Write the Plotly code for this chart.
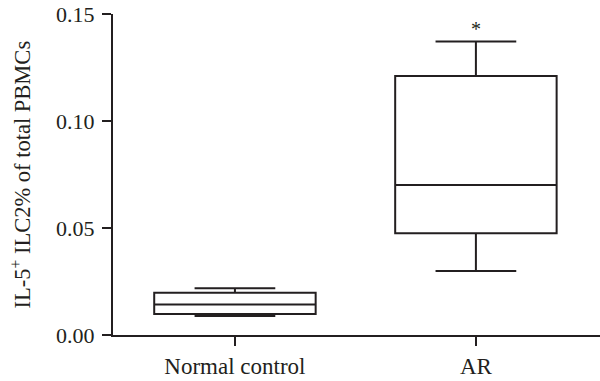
import plotly.graph_objects as go

categories = ["Normal control", "AR"]
lower_fence = [0.0089, 0.0299]
q1 = [0.0098, 0.0475]
median = [0.0143, 0.0701]
q3 = [0.0198, 0.1210]
upper_fence = [0.0218, 0.1372]
significance = ["", "*"]
y_ticks = [0.00, 0.05, 0.10, 0.15]
y_tick_labels = ["0.00", "0.05", "0.10", "0.15"]

FONT = "Liberation Serif"
INK = "#231f20"

fig = go.Figure()
fig.add_trace(go.Box(
    x=categories,
    q1=q1, median=median, q3=q3,
    lowerfence=lower_fence, upperfence=upper_fence,
    width=0.67,
    whiskerwidth=0.5,
    fillcolor="rgba(0,0,0,0)",
    line=dict(color=INK, width=2),
    boxpoints=False,
    hoverinfo="skip",
))

for c, s, u in zip(categories, significance, upper_fence):
    if s:
        fig.add_annotation(x=c, y=u, text=s, showarrow=False, yanchor="bottom",
                           yshift=-1, font=dict(family=FONT, size=20, color=INK))

fig.add_annotation(
    xref="paper", yref="paper", x=-93/487, y=0.5, text="IL-5<sup>+</sup> ILC2% of total PBMCs",
    textangle=-90, showarrow=False, xanchor="center", yanchor="middle",
    font=dict(family=FONT, size=22.5, color=INK))

# x-axis line extension to the left of the y-axis
fig.add_shape(type="line", xref="paper", yref="paper", x0=-10/487, x1=0, y0=0, y1=0,
              line=dict(color=INK, width=2))

fig.update_layout(
    width=600, height=381,
    margin=dict(l=113, r=0, t=14, b=46),
    paper_bgcolor="white", plot_bgcolor="white",
    showlegend=False,
    font=dict(family=FONT, size=22, color=INK),
    xaxis=dict(
        type="category", range=[-0.506, 1.515],
        showline=True, linecolor=INK, linewidth=2,
        ticks="outside", ticklen=9, tickwidth=2, tickcolor=INK,
        showgrid=False, zeroline=False,
        tickfont=dict(family=FONT, size=23, color=INK),
    ),
    yaxis=dict(
        range=[0, 0.15],
        tickvals=y_ticks, ticktext=y_tick_labels,
        showline=True, linecolor=INK, linewidth=2,
        ticks="outside", ticklen=9, tickwidth=2, tickcolor=INK,
        ticklabelstandoff=3,
        showgrid=False, zeroline=False,
        tickfont=dict(family=FONT, size=22, color=INK),
    ),
)

fig.write_html("out.html", config={"displayModeBar": False},
               post_script="document.body.style.margin='0';")
